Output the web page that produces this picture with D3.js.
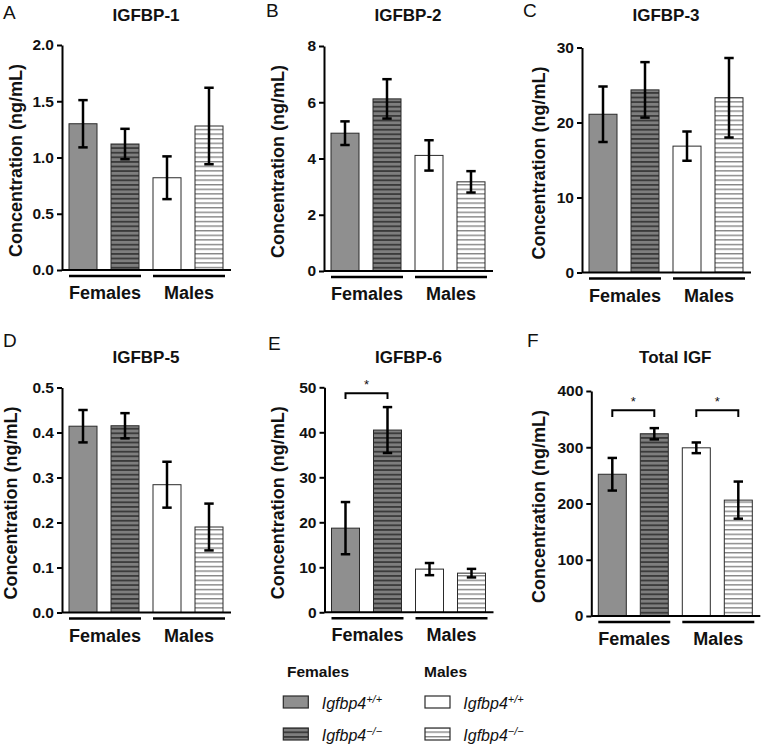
<!DOCTYPE html>
<html>
<head>
<meta charset="utf-8">
<script src="https://cdn.jsdelivr.net/npm/d3@7"></script>
<style>
  body { margin: 0; background: #fff; }
  svg { display: block; }
  text { font-family: "Liberation Sans", Arial, sans-serif; }
</style>
</head>
<body>
<svg id="chart" width="762" height="747"></svg>
<script>
// ---------------- data ----------------
const panelTitles = ["IGFBP-1", "IGFBP-2", "IGFBP-3", "IGFBP-5", "IGFBP-6", "Total IGF"];
const panelLetters = ["A", "B", "C", "D", "E", "F"];
const groups = ["Females +/+", "Females -/-", "Males +/+", "Males -/-"];
const sexLabels = ["Females", "Males"];

const igfbp1Mean = [1.30, 1.12, 0.82, 1.28];
const igfbp1Err  = [0.21, 0.135, 0.19, 0.34];
const igfbp2Mean = [4.90, 6.12, 4.11, 3.17];
const igfbp2Err  = [0.42, 0.70, 0.54, 0.38];
const igfbp3Mean = [21.1, 24.35, 16.85, 23.3];
const igfbp3Err  = [3.7, 3.7, 1.95, 5.3];
const igfbp5Mean = [0.414, 0.415, 0.284, 0.190];
const igfbp5Err  = [0.036, 0.028, 0.051, 0.052];
const igfbp6Mean = [18.7, 40.5, 9.6, 8.7];
const igfbp6Err  = [5.8, 5.1, 1.35, 0.95];
const totalIgfMean = [252, 324, 299, 206];
const totalIgfErr  = [29, 10, 9.5, 33];

const igfbp1Ticks = [0, 0.5, 1.0, 1.5, 2.0];
const igfbp2Ticks = [0, 2, 4, 6, 8];
const igfbp3Ticks = [0, 10, 20, 30];
const igfbp5Ticks = [0, 0.1, 0.2, 0.3, 0.4, 0.5];
const igfbp6Ticks = [0, 10, 20, 30, 40, 50];
const totalIgfTicks = [0, 100, 200, 300, 400];
const tickFormats = [".1f", "d", "d", ".1f", "d", "d"];

// significance brackets: [panel index, bar a, bar b, bracket value, leg value]
const sigBrackets = [
  [4, 0, 1, 48.7, 47.4],
  [5, 0, 1, 366, 354],
  [5, 2, 3, 366, 354]
];

const allMeans = [igfbp1Mean, igfbp2Mean, igfbp3Mean, igfbp5Mean, igfbp6Mean, totalIgfMean];
const allErrs = [igfbp1Err, igfbp2Err, igfbp3Err, igfbp5Err, igfbp6Err, totalIgfErr];
const allTicks = [igfbp1Ticks, igfbp2Ticks, igfbp3Ticks, igfbp5Ticks, igfbp6Ticks, totalIgfTicks];

// ---------------- layout ----------------
const layout = [
  { ax: 62,    top: 45,    ylx: 16,  tx: 3,   ty: 18.5 },
  { ax: 324,   top: 46,    ylx: 278, tx: 266, ty: 17 },
  { ax: 582,   top: 47.5,  ylx: 539, tx: 523, ty: 17 },
  { ax: 62,    top: 387.5, ylx: 11,  tx: 3,   ty: 347 },
  { ax: 324.5, top: 387.3, ylx: 278, tx: 268, ty: 350 },
  { ax: 591.3, top: 391,   ylx: 539, tx: 527, ty: 347 }
];
const plotW = 168, plotH = 225;

const svg = d3.select("#chart");
const defs = svg.append("defs");

function stripePattern(id, bg, line, period, thick) {
  const p = defs.append("pattern").attr("id", id)
    .attr("patternUnits", "userSpaceOnUse")
    .attr("width", 10).attr("height", period);
  p.append("rect").attr("width", 10).attr("height", period).attr("fill", bg);
  p.append("rect").attr("y", 0).attr("width", 10).attr("height", thick).attr("fill", line);
}
stripePattern("fko", "#7e7e7e", "#3a3a3a", 4.6, 1.8);
stripePattern("mko", "#ffffff", "#858585", 4.6, 1.4);

const fills = ["#8f8f8f", "url(#fko)", "#ffffff", "url(#mko)"];

layout.forEach((L, i) => {
  const g = svg.append("g");
  const ticks = allTicks[i];
  const yMax = ticks[ticks.length - 1];
  const y = d3.scaleLinear().domain([0, yMax]).range([L.top + plotH, L.top]);
  const x = d3.scaleBand().domain(groups).range([L.ax, L.ax + plotW])
    .paddingInner(1 / 3).paddingOuter(1 / 6);
  const bw = x.bandwidth();

  // bars
  g.selectAll("rect.bar").data(groups).enter().append("rect")
    .attr("class", "bar")
    .attr("x", d => x(d))
    .attr("y", (d, j) => y(allMeans[i][j]))
    .attr("width", bw)
    .attr("height", (d, j) => y(0) - y(allMeans[i][j]))
    .attr("fill", (d, j) => fills[j])
    .attr("stroke", "#2a2a2a")
    .attr("stroke-width", 1);

  // error bars
  const eb = g.selectAll("g.err").data(groups).enter().append("g");
  eb.append("line")
    .attr("x1", d => x(d) + bw / 2).attr("x2", d => x(d) + bw / 2)
    .attr("y1", (d, j) => y(allMeans[i][j] + allErrs[i][j]))
    .attr("y2", (d, j) => y(allMeans[i][j] - allErrs[i][j]))
    .attr("stroke", "#000").attr("stroke-width", 2.5);
  [1, -1].forEach(s => {
    eb.append("line")
      .attr("x1", d => x(d) + bw / 2 - 4.7).attr("x2", d => x(d) + bw / 2 + 4.7)
      .attr("y1", (d, j) => y(allMeans[i][j] + s * allErrs[i][j]))
      .attr("y2", (d, j) => y(allMeans[i][j] + s * allErrs[i][j]))
      .attr("stroke", "#000").attr("stroke-width", 2.5);
  });

  // y axis
  const yAxis = d3.axisLeft(y).tickValues(ticks).tickSize(5).tickSizeOuter(0).tickPadding(3)
    .tickFormat(d3.format(tickFormats[i]));
  const ag = g.append("g").attr("transform", `translate(${L.ax},0)`).call(yAxis);
  ag.select(".domain").attr("stroke", "#000").attr("stroke-width", 2);
  ag.selectAll(".tick line").attr("stroke", "#000").attr("stroke-width", 2);
  ag.selectAll(".tick text").attr("font-size", 15.5).attr("font-weight", "bold")
    .attr("fill", "#111").attr("font-family", "'Liberation Sans', Arial, sans-serif");

  // x axis baseline
  g.append("line").attr("x1", L.ax).attr("x2", L.ax + plotW + 1)
    .attr("y1", y(0)).attr("y2", y(0)).attr("stroke", "#000").attr("stroke-width", 2);

  // group underlines and labels
  sexLabels.forEach((s, k) => {
    const a = groups[k * 2], b = groups[k * 2 + 1];
    const x1 = x(a), x2 = x(b) + bw + 2;
    g.append("line").attr("x1", x1).attr("x2", x2)
      .attr("y1", y(0) + 6).attr("y2", y(0) + 6)
      .attr("stroke", "#000").attr("stroke-width", 2.5);
    g.append("text").attr("x", (x1 + x2) / 2).attr("y", y(0) + 29)
      .attr("text-anchor", "middle").attr("font-size", 18).attr("font-weight", "bold")
      .attr("fill", "#111").text(s);
  });

  // y label
  const cy = L.top + plotH / 2 + 3;
  g.append("text").attr("transform", `translate(${L.ylx + 6},${cy}) rotate(-90)`)
    .attr("text-anchor", "middle").attr("font-size", 18).attr("font-weight", "bold")
    .attr("fill", "#111").text("Concentration (ng/mL)");

  // title
  g.append("text").attr("x", L.ax + plotW / 2).attr("y", i < 3 ? 20.5 : 363)
    .attr("text-anchor", "middle").attr("font-size", 17).attr("font-weight", "bold")
    .attr("fill", "#111").text(panelTitles[i]);

  // panel letter
  g.append("text").attr("x", L.tx).attr("y", L.ty)
    .attr("font-size", 19).attr("fill", "#111").text(panelLetters[i]);

  // significance brackets
  sigBrackets.filter(b => b[0] === i).forEach(b => {
    const xa = x(groups[b[1]]) + bw / 2, xb = x(groups[b[2]]) + bw / 2;
    const yb = y(b[3]), yl = y(b[4]);
    g.append("path").attr("d", `M${xa},${yl}V${yb}H${xb}V${yl}`)
      .attr("fill", "none").attr("stroke", "#000").attr("stroke-width", 2);
    g.append("text").attr("x", (xa + xb) / 2).attr("y", yb - 4)
      .attr("text-anchor", "middle").attr("font-size", 13).attr("fill", "#111").text("*");
  });
});

// ---------------- legend ----------------
const legendSex = [
  { label: "Females", hx: 287, bx: 283.3, txx: 321.7, fillsIdx: [0, 1] },
  { label: "Males",   hx: 424, bx: 425,   txx: 463.3, fillsIdx: [2, 3] }
];
const genotypeSup = ["+/+", "\u2212/\u2212"];
const lg = svg.append("g");
legendSex.forEach(s => {
  lg.append("text").attr("x", s.hx).attr("y", 677).attr("font-size", 15.5)
    .attr("font-weight", "bold").attr("fill", "#111").text(s.label);
  s.fillsIdx.forEach((fi, r) => {
    const by = 696 + r * 32;
    lg.append("rect").attr("x", s.bx).attr("y", by).attr("width", 25).attr("height", 12)
      .attr("fill", fills[fi]).attr("stroke", "#2a2a2a").attr("stroke-width", 1.2);
    const t = lg.append("text").attr("x", s.txx).attr("y", by + 12.5)
      .attr("font-size", 16).attr("font-style", "italic").attr("fill", "#111");
    t.append("tspan").text("Igfbp4");
    t.append("tspan").attr("dy", -6).attr("font-size", 11).text(genotypeSup[r]);
  });
});
</script>
</body>
</html>
